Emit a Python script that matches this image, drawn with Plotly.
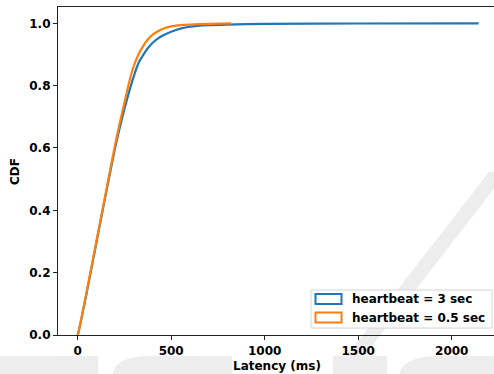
import plotly.graph_objects as go

# ---- data ----
latency_3s = [0, 5, 50, 100, 150, 200, 225, 250, 275, 300, 325, 350, 375, 400, 425, 450,
              500, 550, 600, 700, 800, 1000, 1500, 2144]
cdf_3s = [0.0, 0.01, 0.14, 0.295, 0.45, 0.60, 0.665, 0.725, 0.78, 0.83, 0.872, 0.898,
          0.92, 0.937, 0.949, 0.959, 0.973, 0.983, 0.989, 0.994, 0.996, 0.998, 0.9993, 1.0]

latency_05s = [0, 5, 50, 100, 150, 200, 225, 250, 275, 300, 325, 350, 375, 400, 425, 450,
               500, 550, 600, 700, 820]
cdf_05s = [0.0, 0.01, 0.145, 0.30, 0.455, 0.61, 0.68, 0.745, 0.81, 0.863, 0.90, 0.927,
           0.948, 0.963, 0.973, 0.981, 0.99, 0.994, 0.996, 0.998, 1.0]

series_names = ["heartbeat = 3 sec", "heartbeat = 0.5 sec"]
x_ticks = [0, 500, 1000, 1500, 2000]
y_ticks = [0.0, 0.2, 0.4, 0.6, 0.8, 1.0]

BLUE = "#1f77b4"
ORANGE = "#ff7f0e"
FONT = "DejaVu Sans"

W, H = 494, 374
L, R, T, B = 58, 0, 7, 39
PW, PH = W - L - R, H - T - B


def px(x):
    return (x - L) / PW


def py(y):
    return (H - B - y) / PH


fig = go.Figure()
fig.add_trace(go.Scatter(x=latency_3s, y=cdf_3s, mode="lines", name=series_names[0],
                         line=dict(color=BLUE, width=2.2, shape="spline", smoothing=0.5),
                         showlegend=False))
fig.add_trace(go.Scatter(x=latency_05s, y=cdf_05s, mode="lines", name=series_names[1],
                         line=dict(color=ORANGE, width=2.2, shape="spline", smoothing=0.5),
                         showlegend=False))

shapes = []
WM = "#ededed"


def path(points):
    return "M " + " L ".join(f"{px(a):.5f},{py(b):.5f}" for a, b in points) + " Z"


# watermark: diagonal band
shapes.append(dict(type="path", xref="paper", yref="paper", layer="below",
                   path=path([(489, 172), (507, 172), (344, 382), (326, 382)]),
                   fillcolor=WM, line=dict(width=0)))
# watermark: lower letters
shapes.append(dict(type="path", xref="paper", yref="paper", layer="below",
                   path=path([(0, 356), (98, 356), (98, 380), (0, 380)]),
                   fillcolor=WM, line=dict(width=0)))
shapes.append(dict(type="path", xref="paper", yref="paper", layer="below",
                   path=(f"M {px(113):.5f},{py(380):.5f} L {px(113):.5f},{py(372):.5f} "
                         f"Q {px(118):.5f},{py(356):.5f} {px(150):.5f},{py(356):.5f} "
                         f"L {px(232):.5f},{py(356):.5f} L {px(232):.5f},{py(380):.5f} Z"),
                   fillcolor=WM, line=dict(width=0)))
shapes.append(dict(type="path", xref="paper", yref="paper", layer="below",
                   path=path([(333, 356), (387, 356), (387, 380), (333, 380)]),
                   fillcolor=WM, line=dict(width=0)))
shapes.append(dict(type="path", xref="paper", yref="paper", layer="below",
                   path=(f"M {px(400):.5f},{py(380):.5f} L {px(400):.5f},{py(372):.5f} "
                         f"Q {px(405):.5f},{py(356):.5f} {px(440):.5f},{py(356):.5f} "
                         f"L {px(500):.5f},{py(356):.5f} L {px(500):.5f},{py(380):.5f} Z"),
                   fillcolor=WM, line=dict(width=0)))

# manual legend
shapes.append(dict(type="rect", xref="paper", yref="paper", layer="above",
                   x0=px(311), x1=px(492), y0=py(328), y1=py(290),
                   fillcolor="white", line=dict(color="#d5d5d5", width=1)))
legend_rows = [(294, 304, BLUE), (312.5, 322.5, ORANGE)]
for (y0, y1, c) in legend_rows:
    shapes.append(dict(type="rect", xref="paper", yref="paper", layer="above",
                       x0=px(315.5), x1=px(341.5), y0=py(y1), y1=py(y0),
                       fillcolor="white", line=dict(color=c, width=2)))

annotations = []
for name, (y0, y1, c) in zip(series_names, legend_rows):
    annotations.append(dict(text=name, xref="paper", yref="paper",
                            x=px(350), y=py((y0 + y1) / 2), xanchor="left", yanchor="middle",
                            showarrow=False, font=dict(family=FONT, size=12, color="black", weight="bold")))

annotations.append(dict(text="Latency (ms)", xref="paper", yref="paper",
                        x=px(277), y=py(366), xanchor="center", yanchor="middle",
                        showarrow=False, font=dict(family=FONT, size=12, color="black", weight="bold")))
annotations.append(dict(text="CDF", xref="paper", yref="paper", textangle=-90,
                        x=px(15), y=py(172), xanchor="center", yanchor="middle",
                        showarrow=False, font=dict(family=FONT, size=12, color="black", weight="bold")))

fig.update_layout(
    width=W, height=H,
    margin=dict(l=L, r=R, t=T, b=B, pad=0),
    paper_bgcolor="white", plot_bgcolor="rgba(0,0,0,0)",
    showlegend=False,
    shapes=shapes, annotations=annotations,
    font=dict(family=FONT, size=12, color="black"),
)
fig.update_xaxes(range=[-105, 2226], tickvals=x_ticks, ticktext=[str(v) for v in x_ticks],
                 showgrid=False, zeroline=False, showline=True, linecolor="#222222", linewidth=1.2,
                 mirror=True, ticks="outside", ticklen=4, tickwidth=1, tickcolor="#222222",
                 tickfont=dict(family=FONT, size=12, color="black", weight="bold"))
fig.update_yaxes(range=[0, 1.0523], tickvals=y_ticks, ticktext=[f"{v:.1f}" for v in y_ticks],
                 showgrid=False, zeroline=False, showline=True, linecolor="#222222", linewidth=1.2,
                 mirror=False, ticks="outside", ticklen=4, tickwidth=1, tickcolor="#222222",
                 tickfont=dict(family=FONT, size=12, color="black", weight="bold"))

fig.write_html("out.html")
